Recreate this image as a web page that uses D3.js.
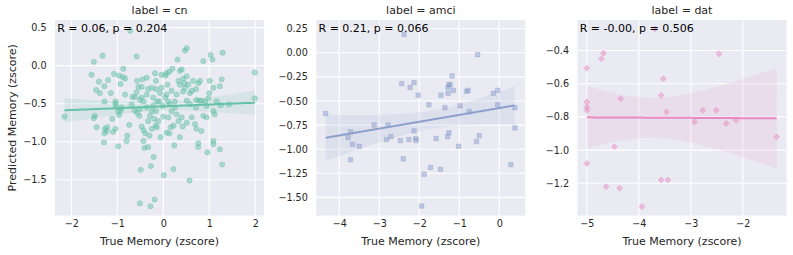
<!DOCTYPE html>
<html><head><meta charset="utf-8">
<script src="https://cdn.jsdelivr.net/npm/d3@7"></script>
<style>
body{margin:0;background:#fff;}
svg{display:block;font-family:"DejaVu Sans",sans-serif;}
</style></head>
<body><svg id="c" width="793" height="255"></svg>
<script>
// ---------- data ----------
const panelLabels = ["cn", "amci", "dat"];
const statTexts = ["R = 0.06, p = 0.204", "R = 0.21, p = 0.066", "R = -0.00, p = 0.506"];
const colors = ["#66c2a5", "#8da0cb", "#e78ac3"];

const cnX = [-2.15,-1.51,-1.32,-1.56,-1.40,-1.46,-1.28,-1.20,-1.38,-1.28,-1.51,-1.45,-1.49,-1.27,-1.22,-1.28,-1.23,-1.29,-1.14,-1.07,-1.04,-1.04,-1.11,-1.04,-1.09,-0.98,-0.96,-0.93,-0.87,-0.88,-0.83,-0.98,-0.93,-0.96,-0.91,-0.83,-0.78,-0.74,-0.80,-0.58,-0.57,-0.45,-0.58,-0.54,-0.67,-0.51,-0.47,-0.43,-0.51,-0.57,-0.52,-0.47,-0.43,-0.39,-0.41,-0.49,-0.51,-0.28,-0.19,-0.27,-0.21,-0.30,-0.33,-0.29,-0.25,-0.22,-0.36,-0.33,-0.25,-0.16,-0.18,-0.16,-0.17,-0.14,-0.20,-0.16,-0.07,-0.04,-0.04,-0.09,-0.01,0.00,0.01,0.05,0.07,0.09,0.13,0.11,0.14,0.11,0.13,0.16,0.20,0.22,0.22,0.24,0.25,0.25,0.29,0.33,0.31,0.36,0.40,0.40,0.36,0.42,0.43,0.47,0.51,0.51,0.46,0.47,0.54,0.51,0.58,0.57,0.62,0.62,0.65,0.71,0.72,0.69,0.72,0.76,0.80,0.78,0.83,0.87,0.83,0.87,0.76,0.76,0.94,0.98,0.96,1.00,1.01,1.03,1.07,1.09,1.09,1.12,1.09,1.09,1.16,1.23,1.29,1.27,1.25,1.23,1.28,1.43,1.99,1.99,-0.69,-0.62,-0.47,-0.36,-0.43,-0.33,-0.22,-0.14,0.18,0.04,0.07,0.18,0.29,0.33,0.51,0.36,0.43,0.58,0.71,0.91,0.94,0.07,-0.25,-0.62,-0.36,-0.11,-0.06,-0.72,-1.03];
const cnY = [-0.67,0.05,0.13,-0.12,-0.21,-0.32,-0.27,-0.19,-0.36,-0.47,-0.69,-0.81,-0.66,-0.83,-0.81,-0.89,-0.86,-1.01,-0.36,-0.11,-0.47,-0.50,-0.70,-0.83,-0.87,-1.06,-0.13,-0.24,-0.04,-0.15,-0.17,-0.60,-0.59,-0.65,-0.55,-0.38,-0.92,-0.78,-0.99,0.12,-0.20,-0.18,-0.35,-0.28,-0.41,-0.45,-0.42,-0.47,-0.57,-0.62,-0.66,-0.80,-0.85,-0.89,-1.08,-1.37,-1.81,-1.85,-1.76,-1.32,-1.20,-0.92,-0.73,-0.66,-0.60,-0.53,-0.16,-0.31,-0.29,-0.31,-0.10,-0.20,-0.79,-0.81,-0.70,-0.60,-0.36,-0.29,-0.12,-0.47,-0.53,-0.67,-1.44,-0.13,-0.10,-0.25,-0.08,-0.47,-0.51,-0.68,-0.89,-0.81,-0.04,-0.79,-1.36,-1.05,-0.47,-0.55,-0.38,-0.20,0.08,-0.07,-0.05,-0.68,-0.94,-0.80,-0.34,0.20,0.23,-0.14,-0.23,-0.29,-0.25,-0.46,-0.51,-1.51,-0.68,-0.33,-0.20,-0.31,-0.45,-0.77,-0.83,-0.23,-0.20,-0.46,-0.46,0.06,-0.86,-0.66,-1.02,-1.07,-0.53,-0.43,-1.14,-0.36,-0.20,0.14,0.08,-0.29,-0.60,-0.64,-0.99,-1.03,-0.47,-0.27,0.17,-0.18,-0.52,-1.10,-1.30,-0.51,-0.09,-0.43,-0.51,-0.59,-0.28,-0.38,-0.99,-1.07,-0.42,-0.47,-0.33,-0.42,-0.38,-0.60,-0.64,-0.73,-0.75,-0.25,-0.17,-0.36,-0.55,-0.47,-0.68,-0.88,-0.83,-0.41,-0.55,-0.73,-0.94,0.46,-0.54];

const amciX = [-4.34,-3.78,-3.72,-3.67,-3.72,-3.50,-3.13,-2.78,-2.82,-2.71,-2.47,-2.44,-2.40,-2.38,-2.26,-2.23,-2.13,-2.13,-2.09,-2.08,-2.03,-1.94,-1.88,-1.76,-1.72,-1.58,-1.47,-1.46,-1.36,-1.29,-1.28,-1.28,-1.26,-1.26,-1.23,-1.18,-1.15,-1.02,-0.98,-0.82,-0.78,-0.75,-0.57,-0.54,-0.50,-0.15,-0.04,-0.04,0.29,0.39,0.39];
const amciY = [-0.63,-0.88,-0.82,-0.95,-1.11,-0.97,-0.75,-0.75,-0.90,-0.87,-0.91,-0.32,-1.10,0.19,-0.90,-0.36,-0.31,-0.81,-0.89,-0.91,-0.44,-1.59,-1.26,-0.54,-1.19,-0.89,-1.21,-0.44,-0.57,-0.87,-0.42,-0.36,-0.83,-0.33,-0.33,-0.24,-0.39,-0.97,-0.55,-0.40,-0.39,-0.61,-0.92,-0.02,-0.86,-0.42,-0.39,-0.54,-1.16,-0.57,-0.78];

const datX = [-5.00,-5.00,-5.00,-5.00,-5.00,-4.72,-4.68,-4.63,-4.47,-4.37,-4.35,-3.94,-3.69,-3.57,-3.57,-3.53,-3.47,-3.44,-2.93,-2.77,-2.51,-2.46,-2.32,-2.13,-1.35];
const datY = [-0.507,-0.71,-0.74,-0.76,-1.08,-0.45,-0.416,-1.22,-0.98,-1.23,-0.69,-1.34,-0.27,-0.67,-1.18,-0.57,-0.77,-1.18,-0.83,-0.76,-0.76,-0.42,-0.84,-0.82,-0.92];

const xTicks = [[-2,-1,0,1,2],[-4,-3,-2,-1,0],[-5,-4,-3,-2]];
const yTicks = [[0.5,0.0,-0.5,-1.0,-1.5],[0.25,0.0,-0.25,-0.5,-0.75,-1.0,-1.25,-1.5],[-0.4,-0.6,-0.8,-1.0,-1.2]];
const yTickFormats = [".1f", ".2f", ".1f"];
const xDomains = [[-2.355, 2.19],[-4.575, 0.65],[-5.18, -1.16]];
const yDomains = [[-1.97, 0.60],[-1.688, 0.34],[-1.394, -0.216]];

const xLabel = "True Memory (zscore)";
const yLabel = "Predicted Memory (zscore)";

// ---------- layout ----------
const panelLeft = [55, 316.3, 577.5];
const panelW = 209, plotTop = 20, plotBottom = 215.5;
const svg = d3.select("#c");
const series = [[cnX, cnY], [amciX, amciY], [datX, datY]];
const markerTypes = [d3.symbolCircle, d3.symbolSquare, d3.symbolSquare];
const markerRot = [0, 0, 45];
const markerSizes = [22, 20, 18];

function tQuant(df){ // 0.975 quantile approximation
  return 1.96 + 2.4/df + 2.6/(df*df);
}

series.forEach(([xs, ys], i) => {
  const x = d3.scaleLinear().domain(xDomains[i]).range([panelLeft[i], panelLeft[i] + panelW]);
  const y = d3.scaleLinear().domain(yDomains[i]).range([plotBottom, plotTop]);
  const g = svg.append("g");
  g.append("rect").attr("x", panelLeft[i]).attr("y", plotTop)
    .attr("width", panelW).attr("height", plotBottom - plotTop).attr("fill", "#eaeaf2");
  // grid
  g.selectAll(".gx").data(xTicks[i]).enter().append("line")
    .attr("x1", d => x(d)).attr("x2", d => x(d)).attr("y1", plotTop).attr("y2", plotBottom)
    .attr("stroke", "#fff").attr("stroke-width", 1.1);
  g.selectAll(".gy").data(yTicks[i]).enter().append("line")
    .attr("y1", d => y(d)).attr("y2", d => y(d)).attr("x1", panelLeft[i]).attr("x2", panelLeft[i] + panelW)
    .attr("stroke", "#fff").attr("stroke-width", 1.1);
  // tick labels via axes
  const ax = d3.axisBottom(x).tickValues(xTicks[i]).tickSize(0).tickPadding(5).tickFormat(d3.format("d"));
  const axg = g.append("g").attr("transform", `translate(0,${plotBottom})`).call(ax);
  axg.select(".domain").remove();
  axg.selectAll("text").attr("font-size", 9.6).attr("fill", "#262626").attr("font-family", "DejaVu Sans");
  const ay = d3.axisLeft(y).tickValues(yTicks[i]).tickSize(0).tickPadding(8.5).tickFormat(d3.format(yTickFormats[i]));
  const ayg = g.append("g").attr("transform", `translate(${panelLeft[i]},0)`).call(ay);
  ayg.select(".domain").remove();
  ayg.selectAll("text").attr("font-size", 9.6).attr("fill", "#262626").attr("font-family", "DejaVu Sans");

  // points
  const pts = xs.map((v, k) => [v, ys[k]]);
  const sym = d3.symbol().type(markerTypes[i]).size(markerSizes[i]);
  g.selectAll(".p").data(pts).enter().append("path")
    .attr("d", sym)
    .attr("transform", d => `translate(${x(d[0])},${y(d[1])}) rotate(${markerRot[i]})`)
    .attr("fill", colors[i]).attr("fill-opacity", 0.5)
    .attr("stroke", colors[i]).attr("stroke-opacity", 0.6).attr("stroke-width", 0.6);

  // regression + CI
  const n = xs.length;
  const mx = d3.mean(xs), my = d3.mean(ys);
  let sxx = 0, sxy = 0;
  xs.forEach((v, k) => { sxx += (v - mx) ** 2; sxy += (v - mx) * (ys[k] - my); });
  const b = sxy / sxx, a = my - b * mx;
  let sse = 0;
  xs.forEach((v, k) => { sse += (ys[k] - a - b * v) ** 2; });
  const s = Math.sqrt(sse / (n - 2));
  const tq = tQuant(n - 2);
  const [x0, x1] = d3.extent(xs);
  const grid = d3.range(0, 101).map(k => x0 + (x1 - x0) * k / 100);
  const band = grid.map(v => {
    const yh = a + b * v;
    const se = s * Math.sqrt(1 / n + (v - mx) ** 2 / sxx);
    return [v, yh - tq * se, yh + tq * se];
  });
  g.append("path").datum(band)
    .attr("d", d3.area().x(d => x(d[0])).y0(d => y(d[1])).y1(d => y(d[2])))
    .attr("fill", colors[i]).attr("fill-opacity", 0.15);
  g.append("path").datum(grid)
    .attr("d", d3.line().x(d => x(d)).y(d => y(a + b * d)))
    .attr("fill", "none").attr("stroke", colors[i]).attr("stroke-width", 2);

  // title
  g.append("text").attr("x", panelLeft[i] + panelW / 2).attr("y", 14.3)
    .attr("text-anchor", "middle").attr("font-size", 11).attr("fill", "#262626").text("label = " + panelLabels[i]);
  // stat text
  g.append("text").attr("x", panelLeft[i] + 2.2).attr("y", 31.6)
    .attr("font-size", 11).attr("fill", "#000").text(statTexts[i]);
  // x label
  g.append("text").attr("x", panelLeft[i] + panelW / 2).attr("y", 245)
    .attr("text-anchor", "middle").attr("font-size", 11).attr("fill", "#262626").text(xLabel);
});

svg.append("text").attr("transform", `translate(12.5,${(plotTop + plotBottom) / 2}) rotate(-90)`)
  .attr("text-anchor", "middle").attr("dominant-baseline", "central")
  .attr("font-size", 11).attr("fill", "#262626").text(yLabel);
</script>
</body></html>
